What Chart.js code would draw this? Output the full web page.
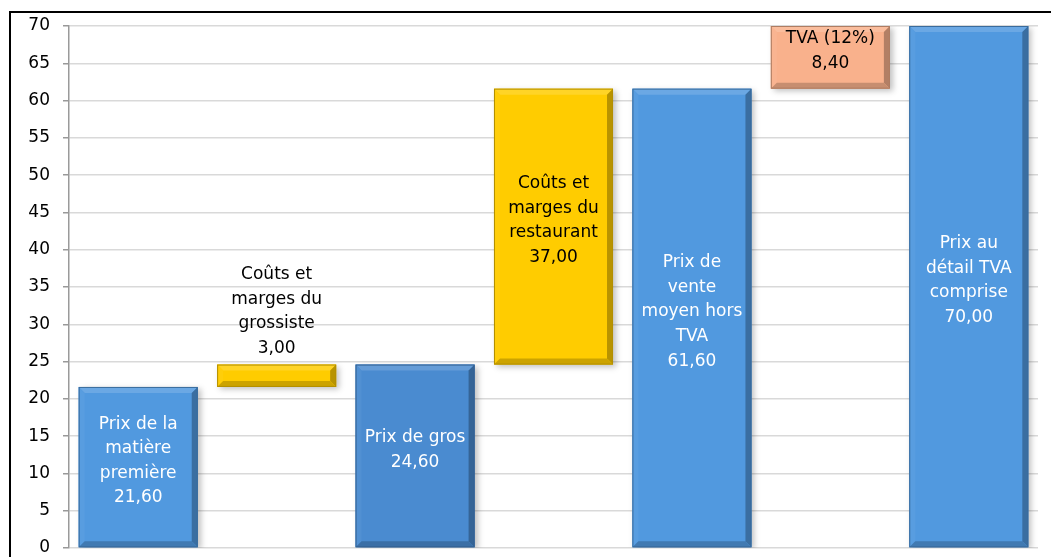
<!DOCTYPE html>
<html>
<head>
<meta charset="utf-8">
<script src="https://cdn.jsdelivr.net/npm/chart.js@4.4.1/dist/chart.umd.min.js"></script>
<style>
html,body{margin:0;padding:0;background:#fff;}
#wrap{position:relative;width:1051px;height:557px;}
</style>
</head>
<body>
<div id="wrap"><canvas id="c" width="1051" height="557"></canvas></div>
<script>
const categories = ["Prix de la matière première","Coûts et marges du grossiste","Prix de gros","Coûts et marges du restaurant","Prix de vente moyen hors TVA","TVA (12%)","Prix au détail TVA comprise"];
const barStarts = [0, 21.6, 0, 24.6, 0, 61.6, 0];
const barEnds   = [21.6, 24.6, 24.6, 61.6, 61.6, 70, 70];
const labelLines = [
  ["Prix de la","matière","première","21,60"],
  ["Coûts et","marges du","grossiste","3,00"],
  ["Prix de gros","24,60"],
  ["Coûts et","marges du","restaurant","37,00"],
  ["Prix de","vente","moyen hors","TVA","61,60"],
  ["TVA (12%)","8,40"],
  ["Prix au","détail TVA","comprise","70,00"]
];
const barColors = ["#5199DF","#FFCC00","#4A8BD0","#FFCC00","#5199DF","#F9B18C","#5199DF"];
const labelColors = ["#ffffff","#000000","#ffffff","#000000","#ffffff","#000000","#ffffff"];
const labelAbove = [false,true,false,false,false,false,false];
const yTicks = [0,5,10,15,20,25,30,35,40,45,50,55,60,65,70];

const FONT = "'DejaVu Sans', sans-serif";

function shade(hex, amt){
  const n = parseInt(hex.slice(1),16);
  let r=(n>>16)&255,g=(n>>8)&255,b=n&255;
  if(amt>=0){r=r+(255-r)*amt;g=g+(255-g)*amt;b=b+(255-b)*amt;}
  else{r=r*(1+amt);g=g*(1+amt);b=b*(1+amt);}
  return `rgb(${Math.round(r)},${Math.round(g)},${Math.round(b)})`;
}

const framePlugin = {
  id:'frame',
  beforeDraw(chart){
    const ctx = chart.ctx;
    ctx.save();
    ctx.strokeStyle = '#000';
    ctx.lineWidth = 2;
    ctx.beginPath();
    ctx.moveTo(10, 600);
    ctx.lineTo(10, 12);
    ctx.lineTo(1060, 12);
    ctx.stroke();
    ctx.restore();
  }
};

const shadowPlugin = {
  id:'shadow',
  beforeDatasetsDraw(chart){
    const ctx = chart.ctx;
    ctx.save();
    ctx.shadowColor = 'rgba(0,0,0,0.25)';
    ctx.shadowBlur = 6;
    ctx.shadowOffsetX = 3;
    ctx.shadowOffsetY = 2;
  },
  afterDatasetsDraw(chart){
    chart.ctx.restore();
  }
};

const bevelPlugin = {
  id:'bevel',
  afterDatasetsDraw(chart){
    const ctx = chart.ctx;
    const meta = chart.getDatasetMeta(0);
    meta.data.forEach((el, i) => {
      const p = el.getProps(['x','y','base','width'], true);
      const l = p.x - p.width/2, r = p.x + p.width/2;
      const t = Math.min(p.y, p.base), b = Math.max(p.y, p.base);
      const h = b - t;
      const d = Math.min(6, h/2.5);
      const c = barColors[i];
      const poly = (pts, fill) => {
        ctx.beginPath();
        ctx.moveTo(pts[0][0], pts[0][1]);
        for (let k=1;k<pts.length;k++) ctx.lineTo(pts[k][0], pts[k][1]);
        ctx.closePath();
        ctx.fillStyle = fill;
        ctx.fill();
      };
      ctx.save();
      poly([[l,t],[r,t],[r-d,t+d],[l+d,t+d]], shade(c, 0.15));
      poly([[l,t],[l+d,t+d],[l+d,b-d],[l,b]], shade(c, 0.04));
      poly([[r,t],[r,b],[r-d,b-d],[r-d,t+d]], shade(c, -0.28));
      poly([[l,b],[r,b],[r-d,b-d],[l+d,b-d]], shade(c, -0.2));
      ctx.strokeStyle = shade(c, -0.3);
      ctx.lineWidth = 1;
      ctx.strokeRect(l+0.5, t+0.5, r-l-1, b-t-1);
      ctx.restore();
    });
  }
};

const labelPlugin = {
  id:'barLabels',
  afterDatasetsDraw(chart){
    const ctx = chart.ctx;
    const meta = chart.getDatasetMeta(0);
    ctx.save();
    ctx.font = "17px " + FONT;
    ctx.textAlign = 'center';
    ctx.textBaseline = 'middle';
    const lh = 24.6;
    meta.data.forEach((el, i) => {
      const p = el.getProps(['x','y','base'], true);
      const lines = labelLines[i];
      const n = lines.length;
      const top = Math.min(p.y, p.base), bot = Math.max(p.y, p.base);
      let cy;
      if (labelAbove[i]) {
        cy = top - 13 - ((n-1)*lh)/2 - 3;
      } else {
        cy = (top + bot)/2 - 6;
      }
      ctx.fillStyle = labelColors[i];
      lines.forEach((s, k) => {
        ctx.fillText(s, p.x, cy + (k - (n-1)/2)*lh);
      });
    });
    ctx.restore();
  }
};

new Chart(document.getElementById('c'), {
  type:'bar',
  data:{
    labels: categories,
    datasets:[{
      data: barStarts.map((s,i)=>[s, barEnds[i]]),
      backgroundColor: barColors,
      borderWidth: 0,
      barPercentage: 0.86,
      categoryPercentage: 1.0
    }]
  },
  options:{
    responsive:false,
    animation:false,
    devicePixelRatio:1,
    layout:{padding:{left:0,right:13,top:26,bottom:9}},
    plugins:{legend:{display:false},tooltip:{enabled:false}},
    scales:{
      x:{display:false},
      y:{
        min:0,max:70,
        afterBuildTicks(scale){ scale.ticks = yTicks.map(v=>({value:v})); },
        afterFit(scale){ scale.width = 69; scale.paddingTop = 0; scale.paddingBottom = 0; },
        grid:{color:'#d9d9d9',lineWidth:1.5,tickColor:'#999',tickLength:6},
        border:{color:'#9a9a9a',width:1.5},
        ticks:{color:'#000',padding:13,font:{family:FONT,size:17,lineHeight:1},callback:v=>String(v)}
      }
    }
  },
  plugins:[framePlugin, shadowPlugin, bevelPlugin, labelPlugin]
});
</script>
</body>
</html>
